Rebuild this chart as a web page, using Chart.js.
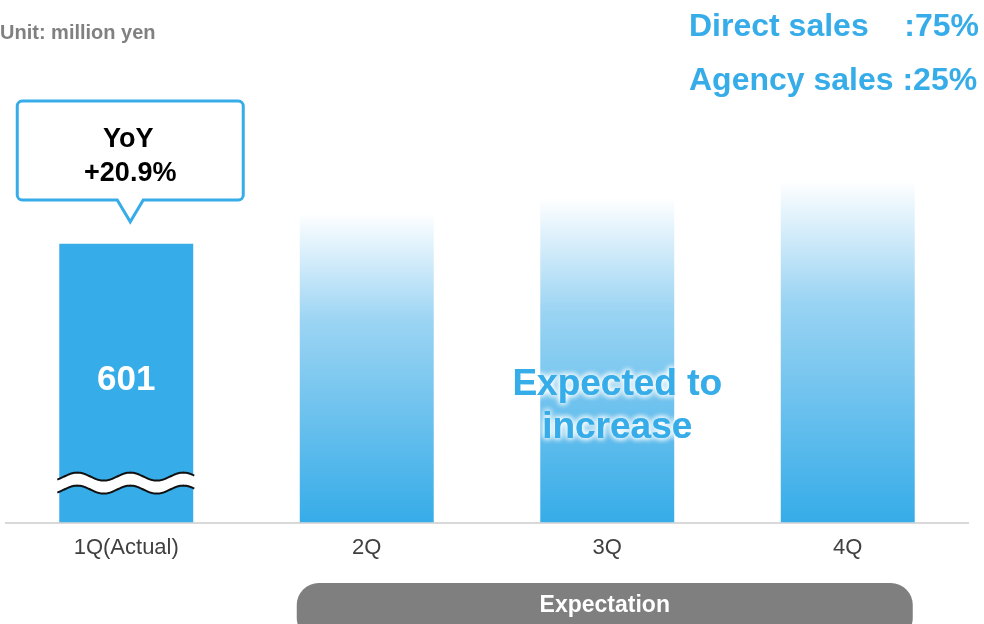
<!DOCTYPE html>
<html lang="en">
<head>
    <meta charset="UTF-8">
    <title>Quarterly Sales</title>
    <script src="https://cdn.jsdelivr.net/npm/chart.js"></script>
    <style>
        body {
            margin: 0;
            background: white;
        }
        #salesChart {
            display: block;
        }
    </style>
</head>
<body>
    <canvas id="salesChart" width="984" height="624"></canvas>

    <script>
        const quarters = ['1Q(Actual)', '2Q', '3Q', '4Q'];
        const salesValues = [601, 668, 700, 737];
        const yoyLines = ['YoY', '+20.9%'];
        const channelNames = ['Direct sales', 'Agency sales'];
        const channelShares = [':75%', ':25%'];
        const unitLabel = 'Unit: million yen';
        const expectedLines = ['Expected to', 'increase'];
        const bandLabel = 'Expectation';

        const BLUE = '#36ace8';
        const FONT = '"Liberation Sans", Arial, sans-serif';

        // solid bar for the actual quarter, fading bars for the forecasts
        function barColor(c) {
            if (c.type !== 'data' || c.dataIndex === 0) return BLUE;
            const chart = c.chart;
            const area = chart.chartArea;
            if (!area) return BLUE;
            const top = chart.scales.y.getPixelForValue(c.dataset.data[c.dataIndex]);
            const g = chart.ctx.createLinearGradient(0, top, 0, area.bottom);
            g.addColorStop(0, 'rgba(255,255,255,1)');
            g.addColorStop(0.35, 'rgba(155,212,243,1)');
            g.addColorStop(1, 'rgba(54,172,232,1)');
            return g;
        }

        const decorations = {
            id: 'decorations',
            afterDatasetsDraw(chart) {
                const ctx = chart.ctx;
                const x = chart.scales.x;
                const bar = chart.getDatasetMeta(0).data[0];
                const bottom = chart.chartArea.bottom;

                // axis break drawn across the actual bar
                const left = bar.x - bar.width / 2 - 2;
                const right = bar.x + bar.width / 2 + 2;
                const wave = (px, base) => base - 4 * Math.cos(2 * Math.PI * (px - bar.x + 49) / 53);
                const upper = bottom - 46, lower = bottom - 33;
                ctx.save();
                ctx.beginPath();
                for (let px = left; px <= right; px++) {
                    if (px === left) ctx.moveTo(px, wave(px, upper));
                    else ctx.lineTo(px, wave(px, upper));
                }
                for (let px = right; px >= left; px--) ctx.lineTo(px, wave(px, lower));
                ctx.closePath();
                ctx.fillStyle = 'white';
                ctx.fill();
                ctx.strokeStyle = '#111';
                ctx.lineWidth = 2;
                [upper, lower].forEach(base => {
                    ctx.beginPath();
                    for (let px = left; px <= right; px++) {
                        if (px === left) ctx.moveTo(px, wave(px, base));
                        else ctx.lineTo(px, wave(px, base));
                    }
                    ctx.stroke();
                });

                // value inside the actual bar
                ctx.fillStyle = 'white';
                ctx.font = 'bold 35px ' + FONT;
                ctx.textAlign = 'center';
                ctx.textBaseline = 'alphabetic';
                ctx.fillText(String(salesValues[0]), bar.x, (bar.y + bottom) / 2 + 7);

                // glowing note over the 3Q bar
                const cx = x.getPixelForValue(2) + 10;
                ctx.font = 'bold 37px ' + FONT;
                ctx.shadowColor = 'white';
                ctx.shadowBlur = 6;
                ctx.fillStyle = BLUE;
                for (let k = 0; k < 3; k++) {
                    ctx.fillText(expectedLines[0], cx, 395);
                    ctx.fillText(expectedLines[1], cx, 438);
                }
                ctx.restore();
            },
            afterDraw(chart) {
                const ctx = chart.ctx;
                const x = chart.scales.x;
                const bar = chart.getDatasetMeta(0).data[0];
                ctx.save();

                // YoY callout above the actual bar
                const bx = bar.x + 4;
                const boxL = bx - 113, boxR = bx + 113, boxT = 101, boxB = 200;
                ctx.beginPath();
                ctx.moveTo(boxL + 5, boxT);
                ctx.lineTo(boxR - 5, boxT);
                ctx.arcTo(boxR, boxT, boxR, boxT + 5, 5);
                ctx.lineTo(boxR, boxB - 5);
                ctx.arcTo(boxR, boxB, boxR - 5, boxB, 5);
                ctx.lineTo(bx + 13, boxB);
                ctx.lineTo(bx, bar.y - 22);
                ctx.lineTo(bx - 13, boxB);
                ctx.lineTo(boxL + 5, boxB);
                ctx.arcTo(boxL, boxB, boxL, boxB - 5, 5);
                ctx.lineTo(boxL, boxT + 5);
                ctx.arcTo(boxL, boxT, boxL + 5, boxT, 5);
                ctx.closePath();
                ctx.fillStyle = 'white';
                ctx.fill();
                ctx.strokeStyle = BLUE;
                ctx.lineWidth = 3;
                ctx.stroke();
                ctx.fillStyle = '#000';
                ctx.font = 'bold 27px ' + FONT;
                ctx.textAlign = 'center';
                ctx.textBaseline = 'alphabetic';
                ctx.fillText(yoyLines[0], bx - 2, 147);
                ctx.fillText(yoyLines[1], bx, 181);

                // unit note
                ctx.fillStyle = '#808080';
                ctx.font = 'bold 20px ' + FONT;
                ctx.textAlign = 'left';
                ctx.fillText(unitLabel, 0, 39);

                // sales channel mix
                ctx.fillStyle = BLUE;
                ctx.font = 'bold 32px ' + FONT;
                ctx.fillText(channelNames[0], 689, 36);
                ctx.textAlign = 'right';
                ctx.fillText(channelShares[0], 979, 36);
                ctx.textAlign = 'left';
                ctx.fillText(channelNames[1] + ' ' + channelShares[1], 689, 90);

                // grey band under the forecast quarters
                const pl = x.getPixelForValue(1) - 70, pr = x.getPixelForValue(3) + 65;
                const pt = 583, pb = 640, r = 22;
                ctx.beginPath();
                ctx.moveTo(pl + r, pt);
                ctx.lineTo(pr - r, pt);
                ctx.arcTo(pr, pt, pr, pt + r, r);
                ctx.lineTo(pr, pb - r);
                ctx.arcTo(pr, pb, pr - r, pb, r);
                ctx.lineTo(pl + r, pb);
                ctx.arcTo(pl, pb, pl, pb - r, r);
                ctx.lineTo(pl, pt + r);
                ctx.arcTo(pl, pt, pl + r, pt, r);
                ctx.closePath();
                ctx.fillStyle = '#7f7f7f';
                ctx.fill();
                ctx.fillStyle = 'white';
                ctx.font = 'bold 23px ' + FONT;
                ctx.textAlign = 'center';
                ctx.fillText(bandLabel, (pl + pr) / 2, 612);
                ctx.restore();
            }
        };

        new Chart(document.getElementById('salesChart'), {
            type: 'bar',
            data: {
                labels: quarters,
                datasets: [{
                    data: salesValues,
                    backgroundColor: barColor,
                    borderWidth: 0,
                    categoryPercentage: 1,
                    barPercentage: 0.557
                }]
            },
            options: {
                responsive: false,
                animation: false,
                layout: {
                    padding: { top: 105, left: 6, right: 16, bottom: 51 }
                },
                plugins: {
                    legend: { display: false },
                    tooltip: { enabled: false }
                },
                scales: {
                    x: {
                        grid: { display: false, drawTicks: false },
                        border: { display: true, color: '#d9d9d9', width: 2 },
                        ticks: {
                            color: '#404040',
                            padding: 12,
                            font: { family: FONT, size: 22 }
                        }
                    },
                    y: {
                        display: false,
                        min: 0,
                        max: 900
                    }
                }
            },
            plugins: [decorations]
        });
    </script>
</body>
</html>
